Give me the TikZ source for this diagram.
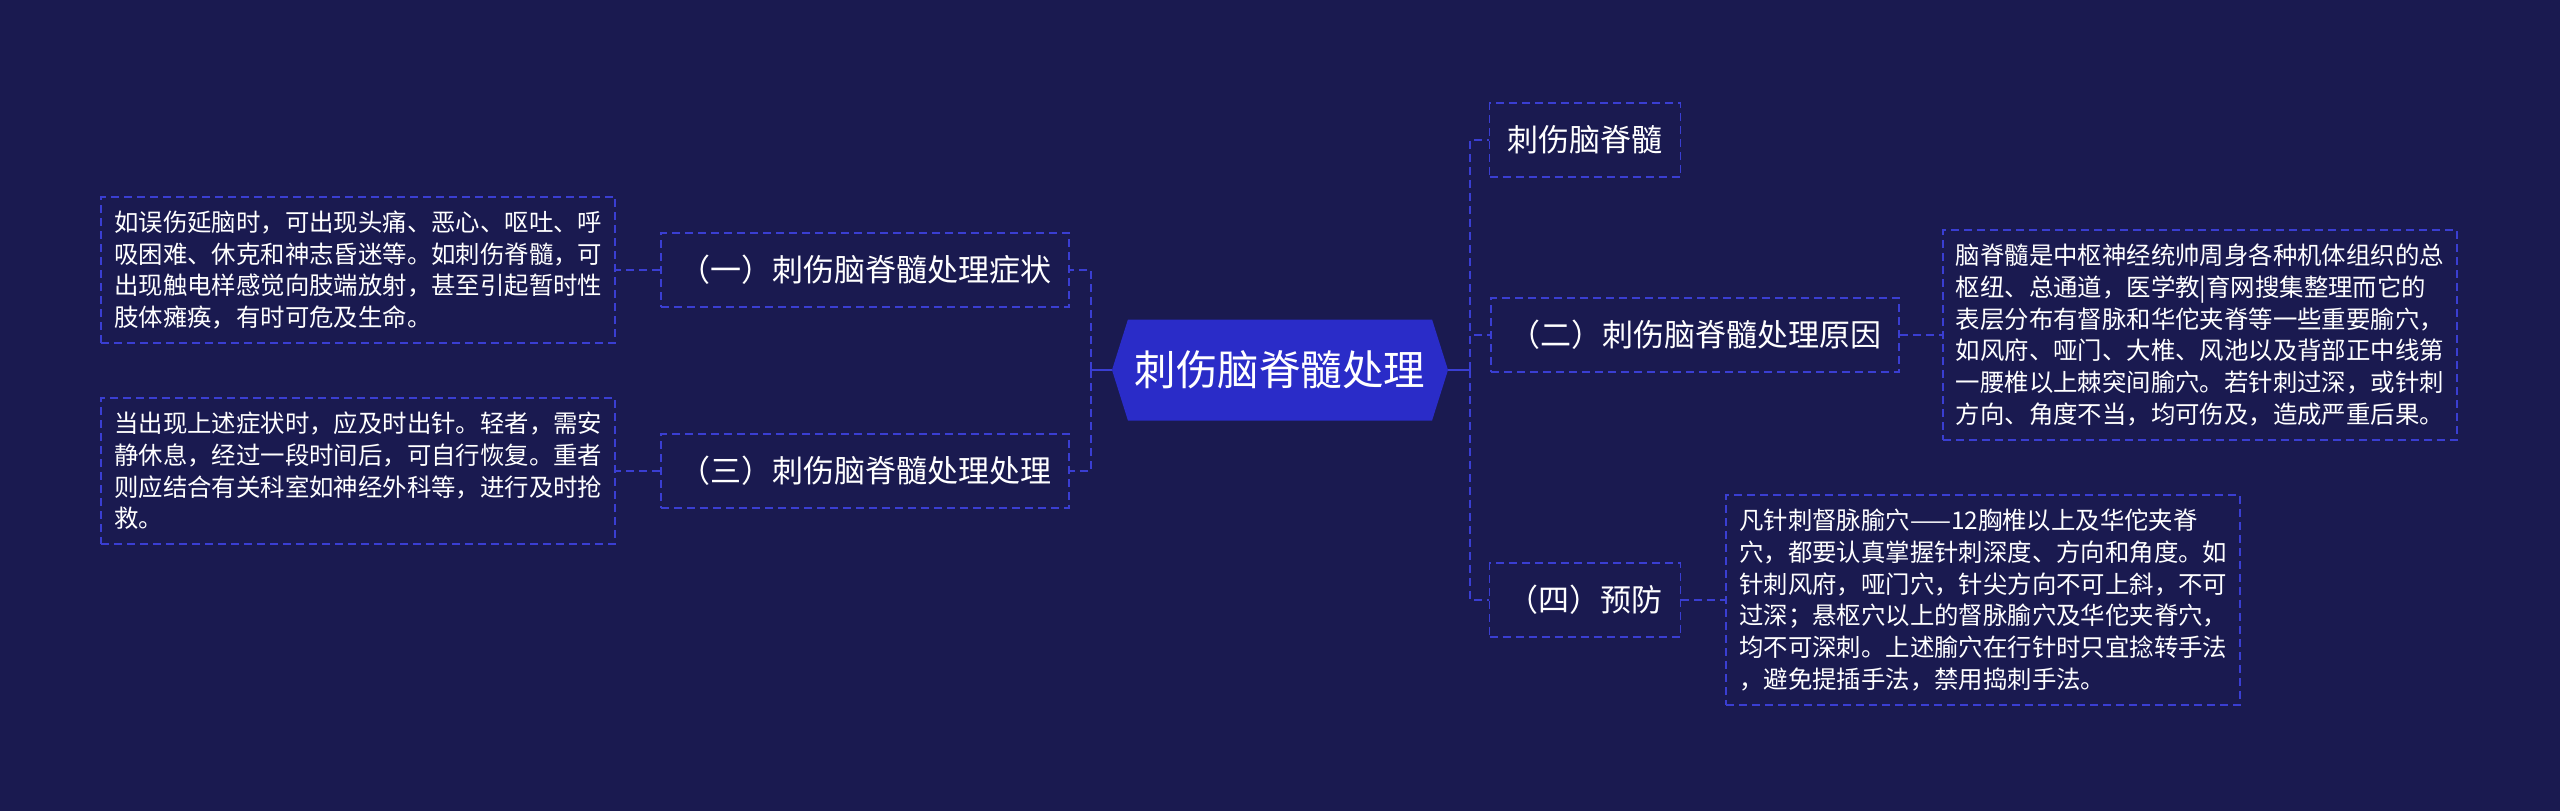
\documentclass[tikz,border=0pt]{standalone}
\usepackage{fontspec}
\newfontfamily\cjk{Noto Sans CJK SC}
\usepackage{tikz}
\usetikzlibrary{positioning,shapes.symbols}
\usepackage{xcolor}
\definecolor{Bg}{HTML}{1A1A50}
\definecolor{Line}{HTML}{3A3ED2}
\definecolor{RootFill}{HTML}{2A2CC8}

\begin{document}
\begin{tikzpicture}[x=1pt,y=-1pt,
    dsh/.style={draw=Line,line width=1.8pt,dash pattern=on 8pt off 5pt},
    lk/.style={dsh},
    sl/.style={draw=Line,line width=2.2pt},
    root/.style={signal,signal to=west and east,signal pointer angle=145,fill=RootFill,text=white,
      minimum width=336pt,minimum height=101pt,inner xsep=0pt,font=\cjk\fontsize{41.5}{48}\selectfont},
    cat/.style={dsh,text=white,minimum height=74pt,inner xsep=18pt,font=\cjk\fontsize{31}{36}\selectfont},
    det/.style={dsh,text=white,text width=488pt,align=left,inner xsep=13pt,inner ysep=14pt,
      font=\cjk\fontsize{24.4}{31.7}\selectfont},
    node distance=44pt
  ]
    \fill[Bg] (0,0) rectangle (2560,811);
    \node[root] (root) at (1280,370) {刺伤脑脊髓处理};
    \node[cat] (s1) at (865,270) {（一）刺伤脑脊髓处理症状};
    \node[cat] (s3) at (865,471) {（三）刺伤脑脊髓处理处理};
    \node[cat] (s0) at (1585,140) {刺伤脑脊髓};
    \node[cat] (s2) at (1695,335) {（二）刺伤脑脊髓处理原因};
    \node[cat] (s4) at (1585,600) {（四）预防};
    \node[det,left=of s1] (d1) {如误伤延脑时，可出现头痛、恶心、呕吐、呼\\吸困难、休克和神志昏迷等。如刺伤脊髓，可\\出现触电样感觉向肢端放射，甚至引起暂时性\\肢体瘫痪，有时可危及生命。};
    \node[det,left=of s3] (d3) {当出现上述症状时，应及时出针。轻者，需安\\静休息，经过一段时间后，可自行恢复。重者\\则应结合有关科室如神经外科等，进行及时抢\\救。};
    \node[det,right=42pt of s2] (d2) {脑脊髓是中枢神经统帅周身各种机体组织的总\\枢纽、总通道，医学教|育网搜集整理而它的\\表层分布有督脉和华佗夹脊等一些重要腧穴，\\如风府、哑门、大椎、风池以及背部正中线第\\一腰椎以上棘突间腧穴。若针刺过深，或针刺\\方向、角度不当，均可伤及，造成严重后果。};
    \node[det,right=of s4] (d4) {凡针刺督脉腧穴——12胸椎以上及华佗夹脊\\穴，都要认真掌握针刺深度、方向和角度。如\\针刺风府，哑门穴，针尖方向不可上斜，不可\\过深；悬枢穴以上的督脉腧穴及华佗夹脊穴，\\均不可深刺。上述腧穴在行针时只宜捻转手法\\，避免提插手法，禁用捣刺手法。};
    \coordinate (lj) at (1091,370);
    \coordinate (rj) at (1470,370);
    \draw[sl] (root.west) -- (lj); \draw[sl] (root.east) -- (rj);
    \draw[lk] (lj) |- (s1.east); \draw[lk] (lj) |- (s3.east);
    \draw[lk] (rj) |- (s0.west); \draw[lk] (rj) |- (s2.west); \draw[lk] (rj) |- (s4.west);
    \draw[lk] (s1.west) -- (d1.east); \draw[lk] (s3.west) -- (d3.east);
    \draw[lk] (s2.east) -- (d2.west); \draw[lk] (s4.east) -- (d4.west);
  \end{tikzpicture}
\end{document}
